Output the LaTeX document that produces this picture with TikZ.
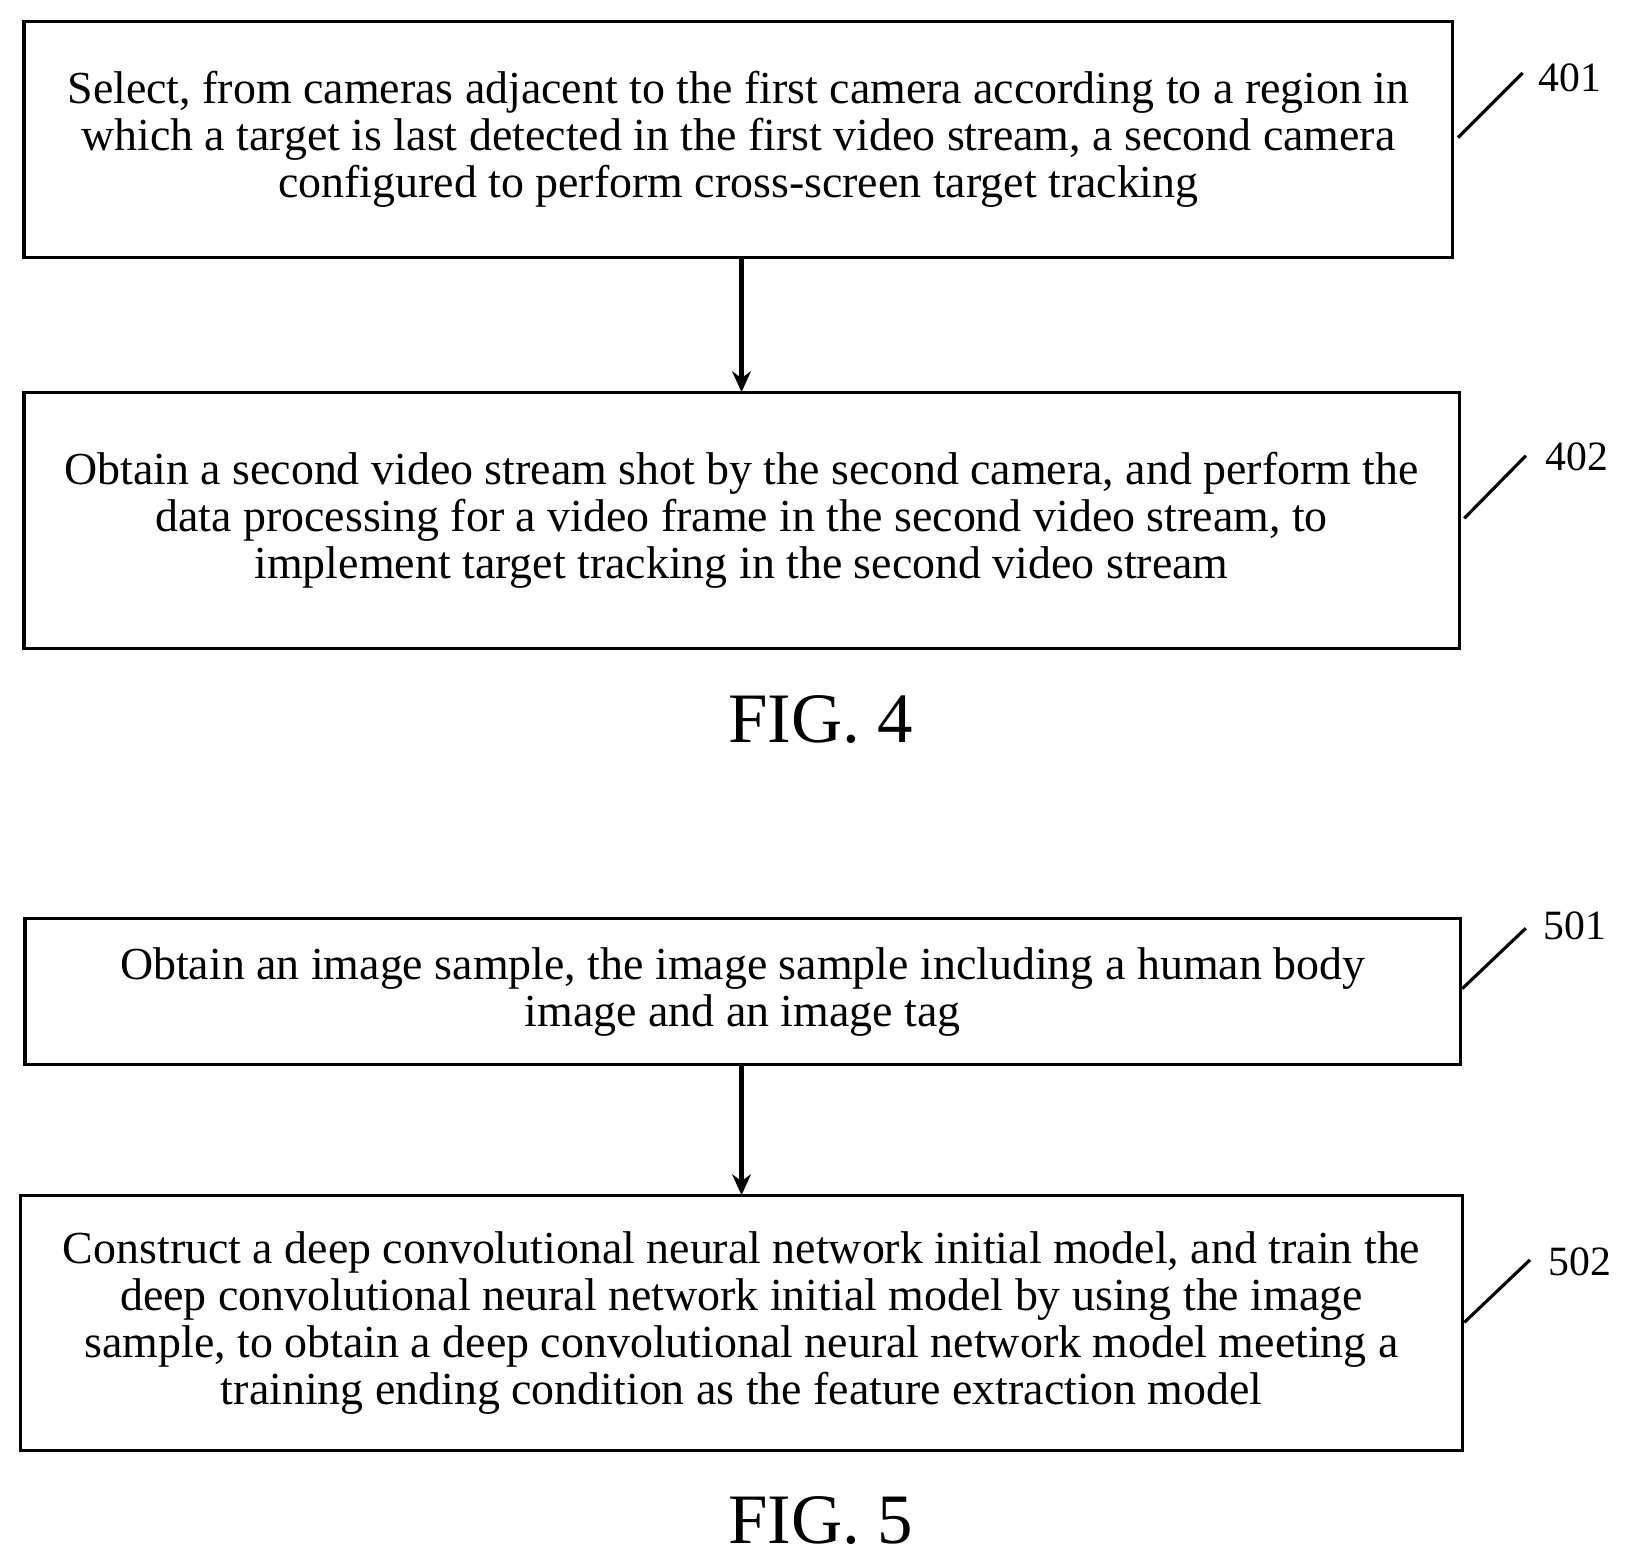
\documentclass[tikz,border=0pt]{standalone}
\usepackage{fontspec}
\setmainfont{Liberation Serif}
\usetikzlibrary{arrows.meta}
\begin{document}
\begin{tikzpicture}[x=0.5pt,y=-0.5pt,
 box/.style={draw,line width=1.5pt,align=center,inner sep=0pt,font=\fontsize{22}{22.5}\selectfont},
 lbl/.style={font=\fontsize{20}{22}\selectfont},
 arr/.style={line width=2pt,-{Stealth[length=10pt,width=9pt]}},
 lead/.style={line width=1.5pt},
 fig/.style={font=\fontsize{34}{38}\selectfont}]
\useasboundingbox (0,0) rectangle (1561,1497);
\node[box,minimum width=685pt,minimum height=113pt] (b1) at (708,133.5) {Select, from cameras adjacent to the first camera according to a region in\\which a target is last detected in the first video stream, a second camera\\configured to perform cross-screen target tracking};
\node[box,minimum width=688pt,minimum height=122.5pt] (b2) at (711,499) {Obtain a second video stream shot by the second camera, and perform the\\data processing for a video frame in the second video stream, to\\implement target tracking in the second video stream};
\coordinate (a1) at (711,247); \coordinate (a2) at (711,376);
\draw[arr] (a1) -- (a2);
\node[lbl] (l1) at (1505,75) {401};
\coordinate (c1) at (1398,132); \coordinate (d1) at (1460,70);
\draw[lead] (c1) -- (d1);
\node[lbl] (l2) at (1512,438) {402};
\coordinate (c2) at (1404,497); \coordinate (d2) at (1463,437);
\draw[lead] (c2) -- (d2);
\node[fig] (f4) at (787,690) {FIG. 4};
\node[box,minimum width=688pt,minimum height=70pt] (b3) at (712,951) {Obtain an image sample, the image sample including a human body\\image and an image tag};
\node[box,minimum width=691pt,minimum height=122pt] (b4) at (711,1268.5) {Construct a deep convolutional neural network initial model, and train the\\deep convolutional neural network initial model by using the image\\sample, to obtain a deep convolutional neural network model meeting a\\training ending condition as the feature extraction model};
\coordinate (a3) at (711,1021); \coordinate (a4) at (711,1146);
\draw[arr] (a3) -- (a4);
\node[lbl] (l3) at (1510,888) {501};
\coordinate (c3) at (1402,948); \coordinate (d3) at (1463,890);
\draw[lead] (c3) -- (d3);
\node[lbl] (l4) at (1515,1210) {502};
\coordinate (c4) at (1404,1268); \coordinate (d4) at (1467,1208);
\draw[lead] (c4) -- (d4);
\node[fig] (f5) at (787,1458) {FIG. 5};
\end{tikzpicture}
\end{document}
